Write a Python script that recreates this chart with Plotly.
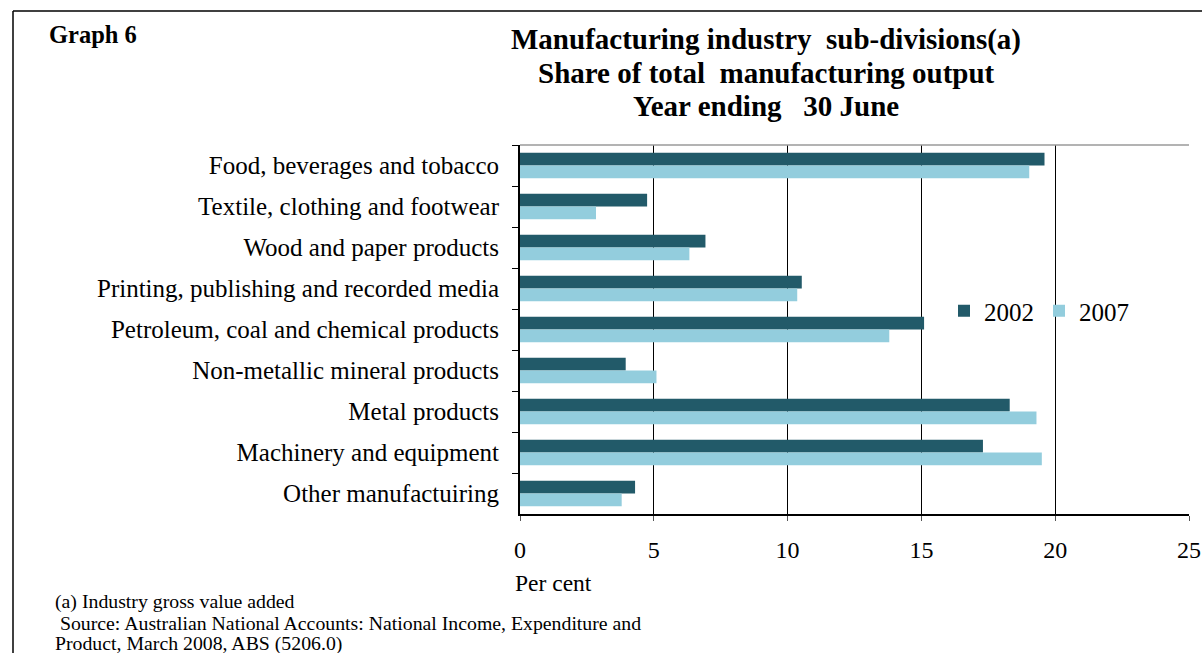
import plotly.graph_objects as go

categories = [
    "Food, beverages and tobacco",
    "Textile, clothing and footwear",
    "Wood and paper products",
    "Printing, publishing and recorded media",
    "Petroleum, coal and chemical products",
    "Non-metallic mineral products",
    "Metal products",
    "Machinery and equipment",
    "Other manufactuiring",
]
values_2002 = [19.6, 4.75, 6.93, 10.53, 15.1, 3.95, 18.3, 17.3, 4.3]
values_2007 = [19.03, 2.84, 6.33, 10.36, 13.8, 5.1, 19.3, 19.5, 3.8]
x_ticks = [0, 5, 10, 15, 20, 25]

FONT = "Liberation Serif"
W, H = 1202, 653
L, R, T, B = 520, 13, 145, 139
PW, PH = W - L - R, H - T - B

def px(x):
    return (x - L) / PW

def py(y):
    return (H - B - y) / PH

fig = go.Figure()
fig.add_trace(go.Bar(y=categories, x=values_2002, name="2002", orientation="h",
                     marker=dict(color="#225A69", line=dict(width=0))))
fig.add_trace(go.Bar(y=categories, x=values_2007, name="2007", orientation="h",
                     marker=dict(color="#93CDDD", line=dict(width=0))))

fig.update_layout(
    width=W, height=H,
    margin=dict(l=L, r=R, t=T, b=B, autoexpand=False),
    paper_bgcolor="white", plot_bgcolor="white",
    barmode="group", bargap=0.38, bargroupgap=0,
    font=dict(family=FONT, color="black", size=24),
    showlegend=True,
    legend=dict(orientation="h", x=px(944), y=py(311), xanchor="left", yanchor="middle",
                font=dict(size=25, family=FONT), bgcolor="rgba(0,0,0,0)",
                traceorder="normal", itemwidth=30, entrywidth=50, tracegroupgap=0),
    xaxis=dict(range=[0, 25], tickvals=x_ticks, showgrid=True, gridcolor="black", gridwidth=1,
               showline=True, linecolor="black", linewidth=2, ticks="outside", ticklen=5,
               tickcolor="#555555", tickfont=dict(size=24, family=FONT), ticklabelstandoff=8,
               zeroline=False, fixedrange=True, automargin=False),
    yaxis=dict(categoryorder="array", categoryarray=categories, autorange="reversed",
               showline=True, linecolor="black", linewidth=2, ticks="outside", ticklen=6,
               tickson="boundaries", tickcolor="black", tickfont=dict(size=25, family=FONT),
               ticklabelstandoff=14, showgrid=False, fixedrange=True, automargin=False),
)

anns = [
    dict(text="<b>Graph 6</b>", x=px(47), y=py(34), xanchor="left", font=dict(size=24.5)),
    dict(text="<b>Manufacturing industry  sub-divisions(a)</b>", x=px(766), y=py(40), xanchor="center", font=dict(size=29)),
    dict(text="<b>Share of total  manufacturing output</b>", x=px(766), y=py(73), xanchor="center", font=dict(size=29)),
    dict(text="<b>Year ending   30 June</b>", x=px(766), y=py(106), xanchor="center", font=dict(size=29)),
    dict(text="Per cent", x=px(513), y=py(583), xanchor="left", font=dict(size=23.5)),
    dict(text="(a) Industry gross value added", x=px(53), y=py(601), xanchor="left", font=dict(size=19.8)),
    dict(text=" Source: Australian National Accounts: National Income, Expenditure and", x=px(53), y=py(623), xanchor="left", font=dict(size=19.8)),
    dict(text="Product, March 2008, ABS (5206.0)", x=px(53), y=py(643), xanchor="left", font=dict(size=19.8)),
]
for a in anns:
    a.update(xref="paper", yref="paper", yanchor="middle", showarrow=False)
    a["font"].update(family=FONT, color="black")
    fig.add_annotation(**a)

fig.add_shape(type="line", xref="paper", yref="paper", x0=px(13), x1=px(13), y0=py(11), y1=py(660),
              line=dict(color="black", width=1.5))
fig.add_shape(type="line", xref="paper", yref="paper", x0=px(13), x1=px(1205), y0=py(11), y1=py(11),
              line=dict(color="black", width=1.5))
fig.add_shape(type="line", xref="paper", yref="paper", x0=0, x1=1, y0=1, y1=1,
              line=dict(color="#9a9a9a", width=1.5))

fig.write_html("out.html", config={"displayModeBar": False},
               post_script="document.body.style.margin='0';document.body.style.overflow='hidden';")
